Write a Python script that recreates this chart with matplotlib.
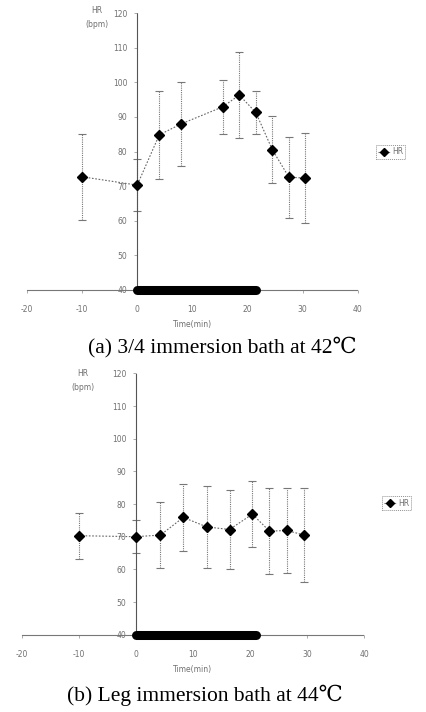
import matplotlib
matplotlib.use("Agg")
import matplotlib.pyplot as plt
from matplotlib.lines import Line2D

# ---- data ----
time_a = [-10, 0, 4, 8, 15.5, 18.5, 21.5, 24.5, 27.5, 30.5]
hr_a = [72.7, 70.3, 84.8, 88.0, 92.9, 96.3, 91.3, 80.5, 72.6, 72.3]
sd_a = [12.5, 7.5, 12.8, 12.2, 7.9, 12.5, 6.3, 9.7, 11.7, 13.0]

time_b = [-10, 0, 4.3, 8.3, 12.4, 16.4, 20.4, 23.4, 26.4, 29.5]
hr_b = [70.3, 70.0, 70.5, 75.9, 73.0, 72.2, 76.9, 71.7, 71.9, 70.5]
sd_b = [7.1, 5.0, 10.2, 10.3, 12.6, 12.0, 10.2, 13.2, 13.0, 14.3]

bath_a = [0, 21.5]
bath_b = [0, 21]

x_ticks = [-20, -10, 0, 10, 20, 30, 40]
y_ticks = [40, 50, 60, 70, 80, 90, 100, 110, 120]

captions = ["(a) 3/4 immersion bath at 42\u2103", "(b) Leg immersion bath at 44\u2103"]

fig = plt.figure(figsize=(4.27, 7.12), dpi=100)
fig.patch.set_facecolor("white")

grey = "#8a8a8a"
tick_font = dict(fontsize=5.5, color="#707070")


def panel(rect, t, hr, sd, bath, cap, cap_xy, leg_xy, hr_lab_xy):
    ax = fig.add_axes(rect)
    ax.set_xlim(-20, 40)
    ax.set_ylim(40, 120)
    for s in ["top", "right"]:
        ax.spines[s].set_visible(False)
    ax.spines["left"].set_position(("data", 0))
    ax.spines["left"].set_linestyle((0, (1, 1)))
    ax.spines["left"].set_color("#555555")
    ax.spines["left"].set_linewidth(0.8)
    ax.spines["bottom"].set_linestyle((0, (1, 1)))
    ax.spines["bottom"].set_color("#777777")
    ax.spines["bottom"].set_linewidth(0.8)
    ax.set_xticks(x_ticks)
    ax.set_yticks(y_ticks)
    ax.set_xticklabels([str(v) for v in x_ticks], **tick_font)
    ax.set_yticklabels([str(v) for v in y_ticks], **tick_font)
    ax.tick_params(axis="both", length=2, width=0.5, color=grey, pad=9)
    ax.tick_params(axis="y", pad=5)
    ax.patch.set_alpha(0)
    # error bars
    eb = ax.errorbar(t, hr, yerr=sd, fmt="none", ecolor="#777777",
                     elinewidth=0.8, capsize=3, capthick=0.8, zorder=2)
    for lc in eb[2]:
        lc.set_linestyle((0, (1, 1)))
    ax.plot(t, hr, linestyle=(0, (1.5, 1.5)), color="#666666", lw=0.8, zorder=3)
    ax.plot(t, hr, linestyle="none", marker="D", ms=5, color="black", zorder=4)
    # bath duration bar
    ax.plot(bath, [40, 40], color="black", lw=6.5, solid_capstyle="round",
            zorder=5, clip_on=False)
    ax.text(hr_lab_xy[0], hr_lab_xy[1], "HR\n(bpm)", fontsize=5.5, color="#707070",
            ha="center", va="center", linespacing=1.7)
    ax.set_xlabel("Time(min)", fontsize=5.5, color="#707070", labelpad=4)
    h = Line2D([], [], linestyle=(0, (1.5, 1.5)), color="#666666", lw=0.8,
               marker="D", ms=4, markerfacecolor="black", markeredgecolor="black")
    leg = fig.legend([h], ["HR"], loc="center left", bbox_to_anchor=leg_xy,
                     fontsize=5.5, frameon=True, fancybox=False,
                     handlelength=1.5, borderpad=0.3, handletextpad=0.3)
    leg.get_frame().set_linestyle((0, (1, 1)))
    leg.get_frame().set_edgecolor("#777777")
    leg.get_frame().set_linewidth(0.7)
    for txt in leg.get_texts():
        txt.set_color("#707070")
    fig.text(cap_xy[0], cap_xy[1], cap, fontsize=15.5,
             family=["Liberation Serif", "DejaVu Serif"], ha="center", va="center")
    return ax


panel([0.063, 0.5927, 0.775, 0.389], time_a, hr_a, sd_a, bath_a, captions[0],
      (222 / 427, 1 - 347 / 712), (372 / 427, 1 - 152 / 712), (-7.3, 118.8))
panel([0.051, 0.1086, 0.802, 0.367], time_b, hr_b, sd_b, bath_b, captions[1],
      (205 / 427, 1 - 695 / 712), (378 / 427, 1 - 503 / 712), (-9.3, 117.8))

fig.savefig("out.png", dpi=100, facecolor="white")
